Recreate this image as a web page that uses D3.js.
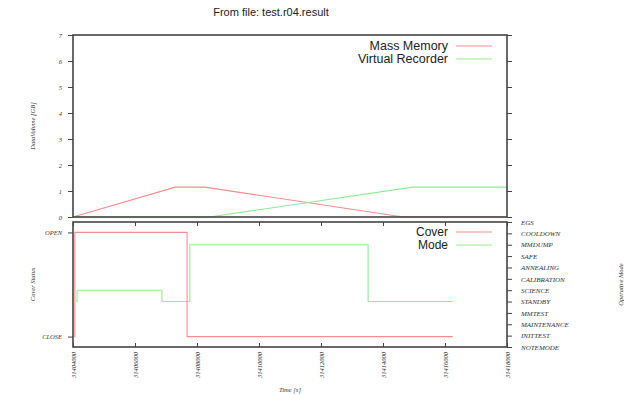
<!DOCTYPE html>
<html>
<head>
<meta charset="utf-8">
<script src="https://cdn.jsdelivr.net/npm/d3@7"></script>
<style>
  body { margin: 0; background: #fff; }
  svg { display: block; }
  .tick text { font-family: "Liberation Serif", serif; font-style: italic; fill: #333; }
  .lbl { font-family: "Liberation Serif", serif; font-style: italic; fill: #333; font-size: 6.5px; }
  .leg { font-family: "Liberation Sans", Arial, sans-serif; font-size: 12.5px; fill: #222; }
</style>
</head>
<body>
<div id="chart"></div>
<script>
// upper panel: data volume
var memTime = [31404000, 31407300, 31408250, 31414650, 31418000];
var memVolume = [0, 1.15, 1.15, 0, 0];
var vrTime = [31404000, 31408400, 31414950, 31418000];
var vrVolume = [0, 0, 1.15, 1.15];

// lower panel: cover status + operative mode
var coverTime = [31404040, 31404060, 31407680, 31416250];
var coverState = [0, 1, 0, 0];
var modeTime = [31404100, 31404130, 31406870, 31407770, 31413520, 31416250];
var modeState = ["STANDBY", "SCIENCE", "STANDBY", "MMDUMP", "STANDBY", "STANDBY"];

var modeNames = ["NOTEMODE", "INITTEST", "MAINTENANCE", "MMTEST", "STANDBY", "SCIENCE",
  "CALIBRATION", "ANNEALING", "SAFE", "MMDUMP", "COOLDOWN", "EGS"];
var coverNames = ["CLOSE", "OPEN"];
var timeTicks = [31404000, 31406000, 31408000, 31410000, 31412000, 31414000, 31416000, 31418000];
var volumeTicks = [0, 1, 2, 3, 4, 5, 6, 7];

var width = 624, height = 396;
var left = 73, right = 507;
var upTop = 35, upBottom = 217;
var lowTop = 222, lowBottom = 347;
var axisColor = "#444";
var red = "#ff8c8c", green = "#94ec94";

var svg = d3.select("#chart").append("svg")
  .attr("width", width)
  .attr("height", height);

var x = d3.scaleLinear().domain([31404000, 31418000]).range([left, right]);
var yUp = d3.scaleLinear().domain([0, 7]).range([upBottom, upTop]);
var yCover = d3.scaleLinear().domain([-0.1, 1.1]).range([lowBottom, lowTop]);
var yMode = d3.scaleLinear().domain([0, modeNames.length - 1]).range([lowBottom, lowTop]);

svg.append("text")
  .attr("x", 271).attr("y", 16)
  .attr("text-anchor", "middle")
  .style("font-family", "Liberation Sans, Arial, sans-serif")
  .style("font-size", "11px")
  .attr("fill", "#222")
  .text("From file: test.r04.result");

function styleAxis(g, size) {
  g.select(".domain").remove();
  g.selectAll(".tick line").attr("stroke", axisColor).attr("stroke-width", 1);
  g.selectAll(".tick text").style("font-size", (size || 6.5) + "px");
}

/* upper panel */
var line = d3.line();

svg.append("path")
  .attr("d", line(memTime.map((t, i) => [x(t), yUp(memVolume[i])])))
  .attr("fill", "none").attr("stroke", red).attr("stroke-width", 1.1);
svg.append("path")
  .attr("d", line(vrTime.map((t, i) => [x(t), yUp(vrVolume[i])])))
  .attr("fill", "none").attr("stroke", green).attr("stroke-width", 1.1);

svg.append("g")
  .attr("transform", `translate(${left},0)`)
  .call(d3.axisLeft(yUp).tickValues(volumeTicks).tickSize(5).tickPadding(6).tickFormat(d3.format("d")))
  .call(styleAxis);
svg.append("g")
  .attr("transform", `translate(${right},0)`)
  .call(d3.axisRight(yUp).tickValues(volumeTicks).tickSize(5).tickFormat(""))
  .call(styleAxis);

svg.append("rect")
  .attr("x", left).attr("y", upTop)
  .attr("width", right - left).attr("height", upBottom - upTop)
  .attr("fill", "none").attr("stroke", axisColor).attr("stroke-width", 1.6);

svg.append("text").attr("class", "lbl")
  .attr("transform", `translate(35,${(upTop + upBottom) / 2}) rotate(-90)`)
  .attr("text-anchor", "middle")
  .text("DataVolume [GB]");

var upLegend = [["Mass Memory", red], ["Virtual Recorder", green]];
upLegend.forEach(function (d, i) {
  var yy = 46 + i * 13;
  svg.append("text").attr("class", "leg")
    .attr("x", 448).attr("y", yy + 4)
    .attr("text-anchor", "end").text(d[0]);
  svg.append("line")
    .attr("x1", 456).attr("x2", 492).attr("y1", yy).attr("y2", yy)
    .attr("stroke", d[1]).attr("stroke-width", 1.1);
});

/* lower panel */
var stepLine = d3.line().curve(d3.curveStepAfter);

svg.append("path")
  .attr("d", stepLine(modeTime.map((t, i) => [x(t), yMode(modeNames.indexOf(modeState[i]))])))
  .attr("fill", "none").attr("stroke", green).attr("stroke-width", 1.1);
svg.append("path")
  .attr("d", stepLine(coverTime.map((t, i) => [x(t), yCover(coverState[i])])))
  .attr("fill", "none").attr("stroke", red).attr("stroke-width", 1.1);

svg.append("g")
  .attr("transform", `translate(0,${lowBottom})`)
  .call(d3.axisBottom(x).tickValues(timeTicks).tickSize(-4).tickPadding(0).tickFormat(d3.format("d")))
  .call(g => styleAxis(g, 6.5))
  .call(g => g.selectAll(".tick text")
    .attr("transform", "rotate(-90)")
    .attr("x", -5).attr("y", 0).attr("dy", "0.32em")
    .attr("text-anchor", "end"));
svg.append("g")
  .attr("transform", `translate(0,${lowTop})`)
  .call(d3.axisTop(x).tickValues(timeTicks).tickSize(-4).tickFormat(""))
  .call(styleAxis);

svg.append("g")
  .attr("transform", `translate(${left},0)`)
  .call(d3.axisLeft(yCover).tickValues([0, 1]).tickSize(5).tickPadding(6).tickFormat(d => coverNames[d]))
  .call(styleAxis);
svg.append("g")
  .attr("transform", `translate(${right},0)`)
  .call(d3.axisRight(yMode).tickValues(d3.range(modeNames.length)).tickSize(5).tickPadding(9).tickFormat(d => modeNames[d]))
  .call(g => styleAxis(g, 7));

svg.append("rect")
  .attr("x", left).attr("y", lowTop)
  .attr("width", right - left).attr("height", lowBottom - lowTop)
  .attr("fill", "none").attr("stroke", axisColor).attr("stroke-width", 1.6);

svg.append("text").attr("class", "lbl")
  .attr("transform", `translate(35,${(lowTop + lowBottom) / 2}) rotate(-90)`)
  .attr("text-anchor", "middle")
  .text("Cover Status");
svg.append("text").attr("class", "lbl")
  .attr("transform", `translate(623,${(lowTop + lowBottom) / 2}) rotate(-90)`)
  .attr("text-anchor", "middle")
  .text("Operative Mode");
svg.append("text").attr("class", "lbl")
  .attr("x", 290).attr("y", 392)
  .attr("text-anchor", "middle")
  .text("Time [s]");

var lowLegend = [["Cover", red], ["Mode", green]];
lowLegend.forEach(function (d, i) {
  var yy = 232 + i * 13;
  svg.append("text").attr("class", "leg")
    .style("font-size", "12px")
    .attr("x", 448).attr("y", yy + 4)
    .attr("text-anchor", "end").text(d[0]);
  svg.append("line")
    .attr("x1", 456).attr("x2", 492).attr("y1", yy).attr("y2", yy)
    .attr("stroke", d[1]).attr("stroke-width", 1.1);
});
</script>
</body>
</html>
